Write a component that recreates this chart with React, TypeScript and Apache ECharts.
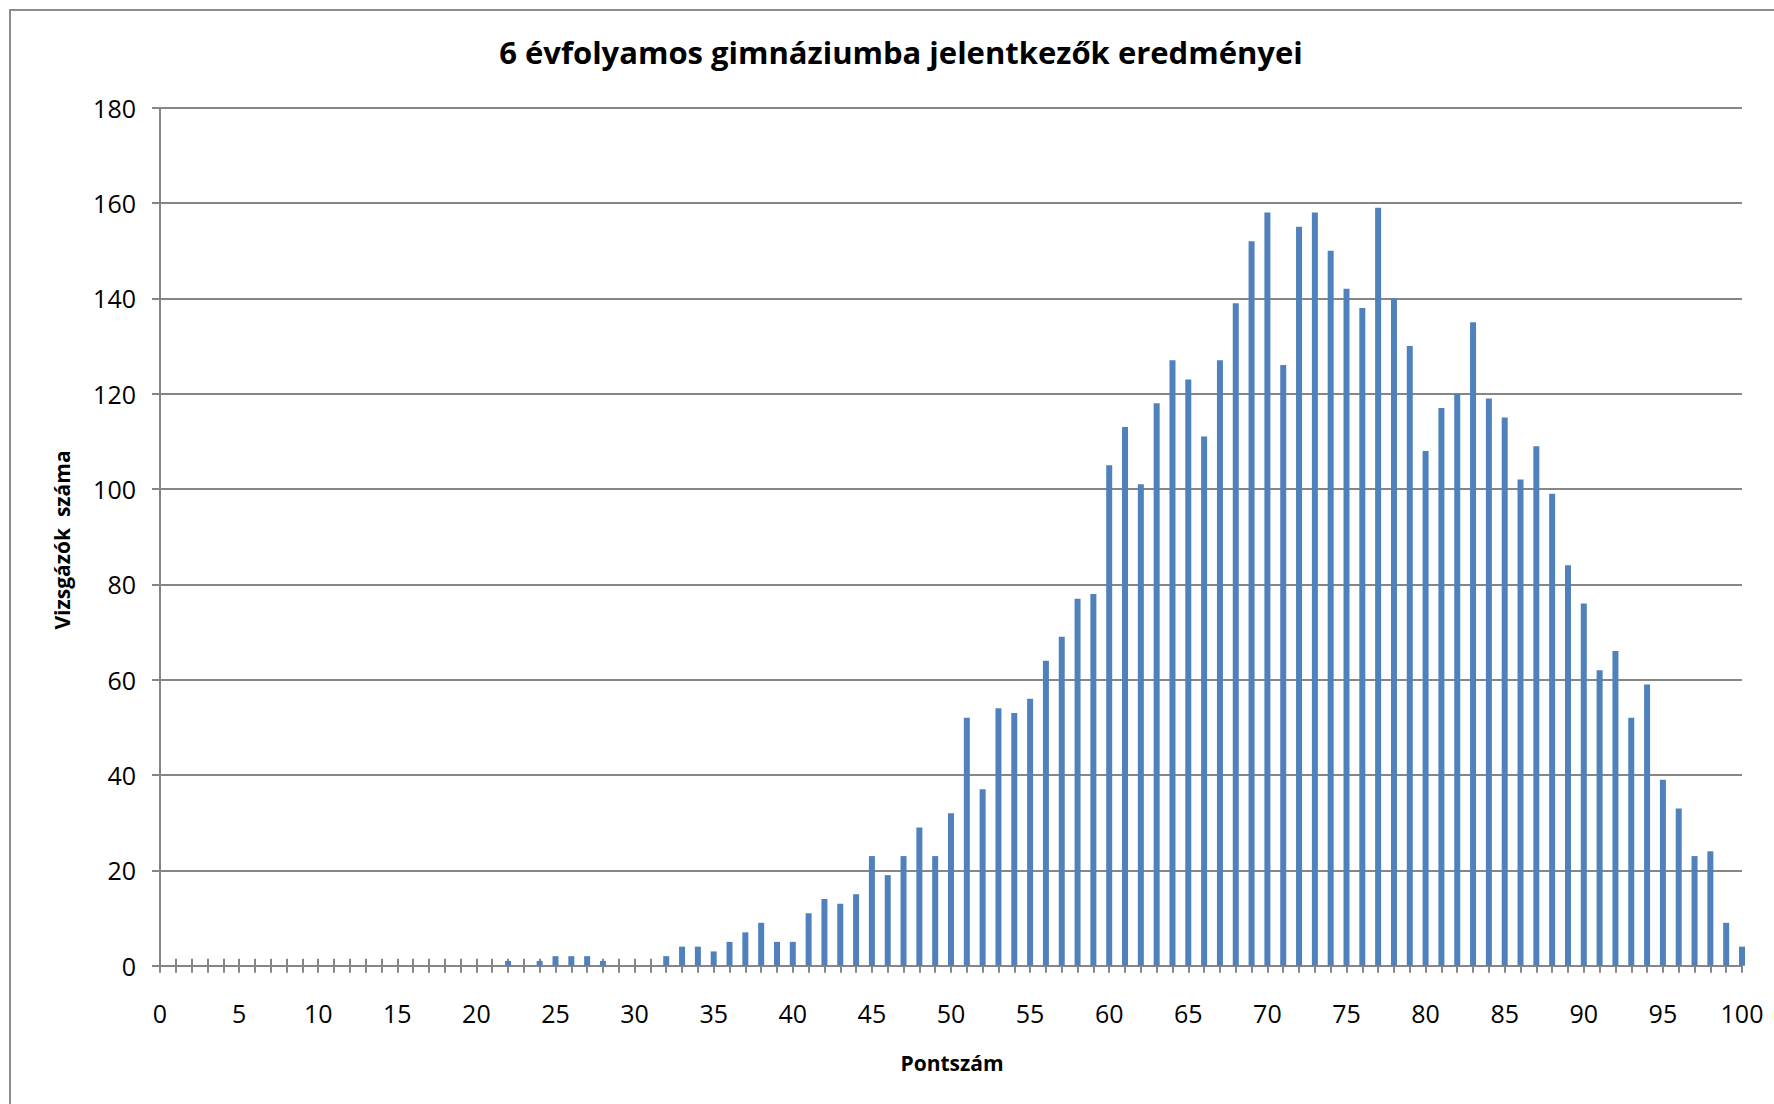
import React, { useEffect, useRef } from "react";
import * as echarts from "echarts";

const TITLE = "6 évfolyamos gimnáziumba jelentkezők eredményei";
const X_NAME = "Pontszám";
const Y_NAME = "Vizsgázók  száma";

// Points 0..100
const categories: string[] = Array.from({ length: 101 }, (_, i) => String(i));

// Number of candidates per score (0..100)
const counts0to20: number[] = [0, 0, 0, 0, 0, 0, 0, 0, 0, 0, 0, 0, 0, 0, 0, 0, 0, 0, 0, 0, 0];
const counts21to40: number[] = [0, 1, 0, 1, 2, 2, 2, 1, 0, 0, 0, 2, 4, 4, 3, 5, 7, 9, 5, 5];
const counts41to60: number[] = [11, 14, 13, 15, 23, 19, 23, 29, 23, 32, 52, 37, 54, 53, 56, 64, 69, 77, 78, 105];
const counts61to80: number[] = [113, 101, 118, 127, 123, 111, 127, 139, 152, 158, 126, 155, 158, 150, 142, 138, 159, 140, 130, 108];
const counts81to100: number[] = [117, 120, 135, 119, 115, 102, 109, 99, 84, 76, 62, 66, 52, 59, 39, 33, 23, 24, 9, 4];

const values: number[] = [
  ...counts0to20,
  ...counts21to40,
  ...counts41to60,
  ...counts61to80,
  ...counts81to100,
];

const Y_MIN = 0;
const Y_MAX = 180;
const Y_STEP = 20;

const FONT = "'Open Sans', 'Noto Sans', sans-serif";
const GRAY = "#868686";

export default function App() {
  const ref = useRef<HTMLDivElement>(null);

  useEffect(() => {
    if (!ref.current) return;
    const chart = echarts.init(ref.current, null, { renderer: "svg" });
    chart.setOption({
      animation: false,
      backgroundColor: "#ffffff",
      textStyle: { fontFamily: FONT },
      grid: {
        left: 160,
        right: 32,
        top: 107.7,
        bottom: 138.3,
        containLabel: false,
        outerBoundsMode: "none",
      },
      xAxis: [
        {
          type: "category",
          data: categories,
          boundaryGap: false,
          position: "bottom",
          axisLine: { show: true, lineStyle: { color: GRAY, width: 2 } },
          axisTick: {
            show: true,
            interval: 0,
            inside: false,
            length: 7,
            lineStyle: { color: GRAY, width: 2 },
          },
          axisLabel: {
            interval: 4,
            margin: 35,
            color: "#000",
            fontSize: 25,
            fontFamily: FONT,
          },
          splitLine: { show: false },
        },
        {
          type: "category",
          data: categories,
          boundaryGap: false,
          position: "bottom",
          axisLine: { show: false },
          axisTick: {
            show: true,
            interval: 0,
            inside: true,
            length: 7,
            lineStyle: { color: GRAY, width: 2 },
          },
          axisLabel: { show: false },
          splitLine: { show: false },
        },
      ],
      yAxis: {
        type: "value",
        min: Y_MIN,
        max: Y_MAX,
        interval: Y_STEP,
        axisLine: { show: true, lineStyle: { color: GRAY, width: 2 } },
        axisTick: { show: true, inside: false, length: 8, lineStyle: { color: GRAY, width: 2 } },
        axisLabel: { margin: 24, color: "#000", fontSize: 25, fontFamily: FONT },
        splitLine: { show: true, lineStyle: { color: GRAY, width: 2 } },
      },
      series: [
        {
          type: "bar",
          xAxisIndex: 0,
          data: values,
          barWidth: 6,
          clip: false,
          itemStyle: { color: "#4F81BD" },
        },
      ],
      graphic: [
        {
          type: "rect",
          silent: true,
          shape: { x: 10, y: 10, width: 1800, height: 1200 },
          style: { fill: "none", stroke: "#8c8c8c", lineWidth: 2 },
          z: 100,
        },
        {
          type: "text",
          x: 901,
          y: 52,
          style: {
            text: TITLE,
            fill: "#000",
            font: `bold 31px ${FONT}`,
            textAlign: "center",
            textVerticalAlign: "middle",
          },
        },
        {
          type: "text",
          x: 952,
          y: 1063,
          style: {
            text: X_NAME,
            fill: "#000",
            font: `bold 21px ${FONT}`,
            textAlign: "center",
            textVerticalAlign: "middle",
          },
        },
        {
          type: "text",
          x: 62,
          y: 540,
          rotation: Math.PI / 2,
          style: {
            text: Y_NAME,
            fill: "#000",
            font: `bold 21px ${FONT}`,
            textAlign: "center",
            textVerticalAlign: "middle",
          },
        },
      ],
    });
    return () => chart.dispose();
  }, []);

  return (
    <div
      ref={ref}
      style={{ position: "absolute", left: 0, top: 0, width: 1774, height: 1104 }}
    />
  );
}
